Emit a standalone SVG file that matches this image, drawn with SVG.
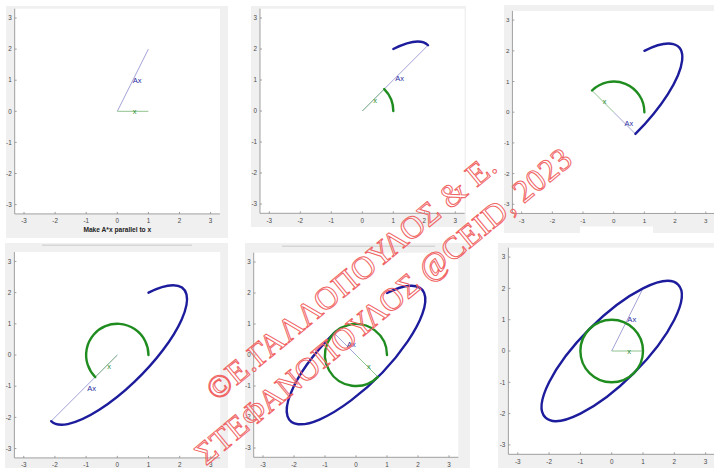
<svg xmlns="http://www.w3.org/2000/svg" xmlns:xlink="http://www.w3.org/1999/xlink" width="714" height="468" viewBox="0 0 714 468">
<style>
.fig{fill:#f0f0f0}
.axl{fill:none;stroke:#8a8a8a;stroke-width:0.8}
.tk{font-family:"Liberation Sans",Arial,sans-serif;font-size:6.3px;fill:#4a4a4a}
.ty{text-anchor:end}
.tx{text-anchor:middle}
.vA{stroke:#a3a3d6;stroke-width:1;fill:none;vector-effect:non-scaling-stroke}
.vx{stroke:#8fc28f;stroke-width:1;fill:none;vector-effect:non-scaling-stroke}
.cb{stroke:#1c1c9c;stroke-width:2.4;fill:none;vector-effect:non-scaling-stroke;stroke-linecap:round}
.cg{stroke:#1f8c1f;stroke-width:2.4;fill:none;vector-effect:non-scaling-stroke;stroke-linecap:round}
.lA{font-family:"Liberation Sans",Arial,sans-serif;font-size:7.5px;fill:#2b2ba0}
.lx{font-family:"Liberation Sans",Arial,sans-serif;font-size:7.5px;fill:#2e8f2e}
.ttl{font-family:"Liberation Sans",Arial,sans-serif;font-size:6.6px;font-weight:bold;fill:#222;text-anchor:middle}
.wm{font-family:"Liberation Serif","Times New Roman",serif;font-size:32px;fill:none;stroke:#f06464;stroke-width:1}
</style>
<defs>
<g id="ax">
<rect x="-102.3" y="-102.3" width="204.6" height="204.6" fill="#ffffff"/>
<path class="axl" d="M-102.3 -102.3V102.3H102.3"/>
<path class="axl" d="M-93 102.3v-2M-62 102.3v-2M-31 102.3v-2M0 102.3v-2M31 102.3v-2M62 102.3v-2M93 102.3v-2M-102.3 -93h2M-102.3 -62h2M-102.3 -31h2M-102.3 0h2M-102.3 31h2M-102.3 62h2M-102.3 93h2"/>
<text class="tk ty" x="-105.3" y="-90.8">3</text>
<text class="tk ty" x="-105.3" y="-59.8">2</text>
<text class="tk ty" x="-105.3" y="-28.8">1</text>
<text class="tk ty" x="-105.3" y="2.2">0</text>
<text class="tk ty" x="-105.3" y="33.2">-1</text>
<text class="tk ty" x="-105.3" y="64.2">-2</text>
<text class="tk ty" x="-105.3" y="95.2">-3</text>
<text class="tk tx" x="-93" y="111.8">-3</text>
<text class="tk tx" x="-62" y="111.8">-2</text>
<text class="tk tx" x="-31" y="111.8">-1</text>
<text class="tk tx" x="0" y="111.8">0</text>
<text class="tk tx" x="31" y="111.8">1</text>
<text class="tk tx" x="62" y="111.8">2</text>
<text class="tk tx" x="93" y="111.8">3</text>
</g>
</defs>

<rect width="714" height="468" fill="#ffffff"/>

<g id="panel1">
<rect class="fig" x="6" y="6" width="222" height="232"/>
<g transform="translate(117.3,111.3) scale(1.003)">
<use xlink:href="#ax" href="#ax"/>
<g transform="scale(31,-31)">
<path class="vA" d="M0 0L1 2"/>
<path class="vx" d="M0 0L1 0"/>
</g>
<text class="lA" x="15.5" y="-28.3">Ax</text>
<text class="lx" x="15.5" y="2.7">x</text>
<text class="ttl" x="0" y="120.3">Make A*x parallel to x</text>
</g>
</g>

<g id="panel2">
<rect class="fig" x="251" y="6" width="215" height="221"/>
<g transform="translate(362.3,111)">
<use xlink:href="#ax" href="#ax"/>
<g transform="scale(31,-31)">
<path class="vA" d="M0 0L2.1213 2.1213"/>
<path class="vx" d="M0 0L0.7071 0.7071"/>
<path class="cb" d="M1 2A3 1 45 0 0 2.1213 2.1213"/>
<path class="cg" d="M1 0A1 1 0 0 1 0.7071 0.7071"/>
</g>
<text class="lA" x="32.9" y="-30.2">Ax</text>
<text class="lx" x="11" y="-8.3">x</text>
</g>
</g>

<g id="panel3">
<rect class="fig" x="504" y="5" width="210" height="228"/>
<rect x="580" y="226.5" width="73" height="8" fill="#ffffff"/>
<g transform="translate(613.7,112.2) scale(0.99)">
<use xlink:href="#ax" href="#ax"/>
<g transform="scale(31,-31)">
<path class="vA" d="M0 0L0.7071 -0.7071"/>
<path class="vx" d="M0 0L-0.7071 0.7071"/>
<path class="cb" d="M1 2A3 1 45 0 0 0.7071 -0.7071"/>
<path class="cg" d="M1 0A1 1 0 0 1 -0.7071 0.7071"/>
</g>
<text class="lA" x="11" y="13.7">Ax</text>
<text class="lx" x="-11" y="-8.3">x</text>
</g>
</g>

<g id="panel4">
<rect class="fig" x="5" y="243" width="223" height="225"/>
<rect x="42" y="244.5" width="150" height="1.5" fill="#d6d6d6"/>
<g transform="translate(117.3,355) scale(1.006)">
<use xlink:href="#ax" href="#ax"/>
<g transform="scale(31,-31)">
<path class="vA" d="M0 0L-2.1213 -2.1213"/>
<path class="vx" d="M0 0L-0.7071 -0.7071"/>
<path class="cb" d="M1 2A3 1 45 1 0 -2.1213 -2.1213"/>
<path class="cg" d="M1 0A1 1 0 1 1 -0.7071 -0.7071"/>
</g>
<text class="lA" x="-30" y="35.6">Ax</text>
<text class="lx" x="-10" y="13.7">x</text>
</g>
</g>

<g id="panel5">
<rect class="fig" x="245" y="243" width="225" height="225"/>
<rect x="282" y="245.5" width="153" height="1.5" fill="#d6d6d6"/>
<g transform="translate(356,355)">
<use xlink:href="#ax" href="#ax"/>
<g transform="scale(31,-31)">
<path class="vA" d="M0 0L-0.7071 0.7071"/>
<path class="vx" d="M0 0L0.7071 -0.7071"/>
<path class="cb" d="M1 2A3 1 45 1 0 -0.7071 0.7071"/>
<path class="cg" d="M1 0A1 1 0 1 1 0.7071 -0.7071"/>
</g>
<text class="lA" x="-9" y="-8.3">Ax</text>
<text class="lx" x="11" y="13.7">x</text>
</g>
</g>

<g id="panel6">
<rect class="fig" x="498" y="243" width="216" height="225"/>
<g transform="translate(611.7,351) scale(1.01)">
<use xlink:href="#ax" href="#ax"/>
<g transform="scale(31,-31)">
<path class="vA" d="M0 0L1 2"/>
<path class="vx" d="M0 0L1 0"/>
<ellipse class="cb" cx="0" cy="0" rx="3" ry="1" transform="rotate(45)"/>
<circle class="cg" cx="0" cy="0" r="1"/>
</g>
<text class="lA" x="15.5" y="-28.3">Ax</text>
<text class="lx" x="15.5" y="2.7">x</text>
</g>
</g>

<g id="watermark">
<text class="wm" transform="translate(217,402) rotate(-39.5)" x="0" y="0" textLength="365" lengthAdjust="spacing">©Ε.ΓΑΛΛΟΠΟΥΛΟΣ &amp; Ε.</text>
<text class="wm" transform="translate(206,466) rotate(-39.5)" x="0" y="0" textLength="477" lengthAdjust="spacing">ΣΤΕΦΑΝΟΠΟΥΛΟΣ @CEID, 2023</text>
</g>
</svg>
